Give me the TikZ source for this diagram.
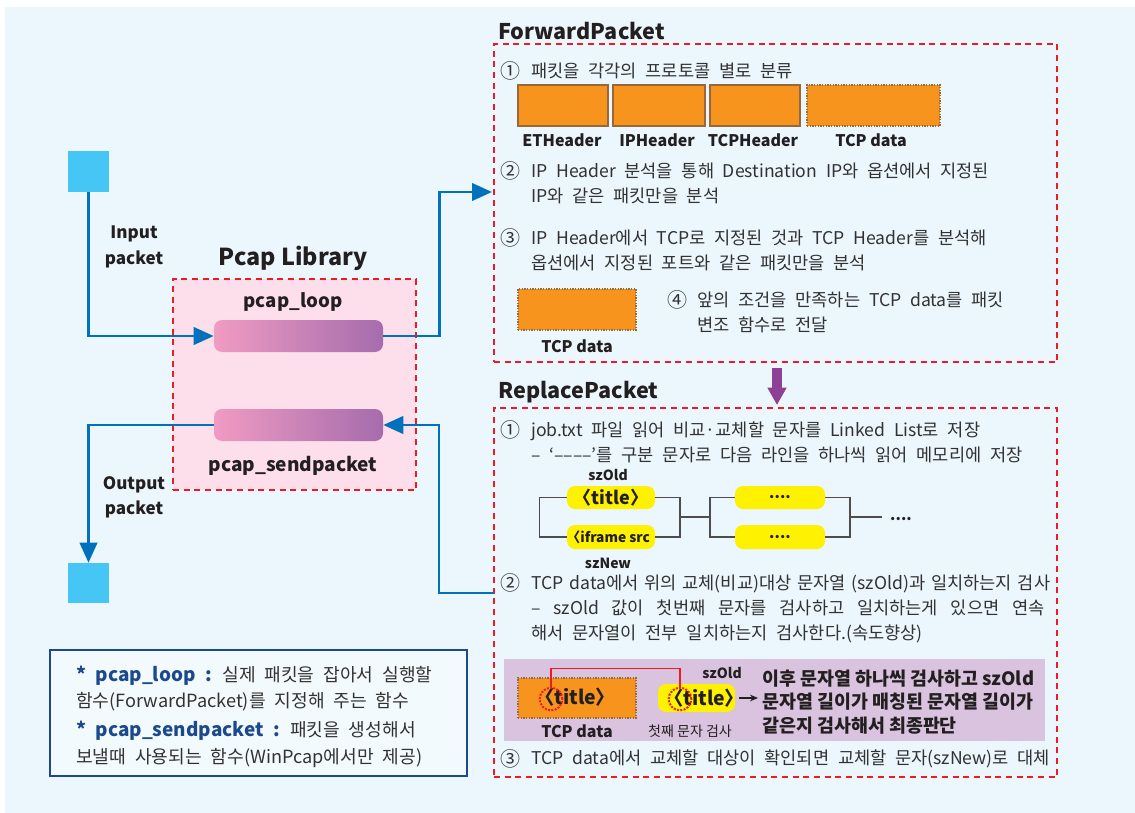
\documentclass[tikz,border=0pt]{standalone}
\usepackage{fontspec}
\setmainfont{Noto Sans CJK KR}
\newfontfamily\bodyfont{Noto Sans CJK KR}[WordSpace=2.2]
\usetikzlibrary{arrows.meta,fit}

\definecolor{bgblue}{RGB}{235,246,253}
\definecolor{sqcyan}{RGB}{69,198,245}
\definecolor{lineblue}{RGB}{0,114,188}
\definecolor{boxred}{RGB}{237,28,36}
\definecolor{pinkfill}{RGB}{253,222,235}
\definecolor{barpink}{RGB}{240,155,194}
\definecolor{barpurple}{RGB}{165,108,173}
\definecolor{pktorange}{RGB}{247,148,29}
\definecolor{pktbrown}{RGB}{150,105,60}
\definecolor{listyellow}{RGB}{255,242,0}
\definecolor{panelpurple}{RGB}{217,195,223}
\definecolor{arrowpurple}{RGB}{142,63,150}
\definecolor{notenavy}{RGB}{28,72,140}
\definecolor{txtgray}{RGB}{50,50,50}
\definecolor{lbldark}{RGB}{35,31,32}

\tikzset{
  redbox/.style={draw=boxred, line width=2.2pt, dash pattern=on 4.5pt off 3.5pt, inner sep=0pt},
  pktsq/.style={fill=sqcyan, inner sep=0pt},
  bar/.style={left color=barpink, right color=barpurple, rounded corners=6pt, inner sep=0pt},
  pkt/.style={fill=pktorange, draw=pktbrown, line width=1.5pt, inner sep=0pt},
  pktdata/.style={fill=pktorange, draw=pktbrown, densely dotted, line width=1pt, inner sep=0pt},
  ylw/.style={fill=listyellow, rounded corners=6pt, inner sep=0pt},
  ylwtxt/.style={inner sep=0pt, text=lbldark, font=\fontsize{11.5}{13}\selectfont\bfseries},
  flow/.style={draw=lineblue, line width=2.2pt, -{Triangle[length=15pt,width=13pt]}},
  bigarrow/.style={draw=arrowpurple, line width=7.5pt, -{Triangle[length=13pt,width=13.5pt]}},
  title/.style={anchor=west, inner sep=0pt, text=lbldark, font=\fontsize{16.2}{19}\selectfont\bfseries},
  lbl/.style={inner sep=0pt, text=lbldark, font=\fontsize{12}{14}\selectfont\bfseries},
  num/.style={inner sep=0pt, text=txtgray, font=\bodyfont\fontsize{15}{17}\selectfont},
  txt/.style={anchor=west, inner sep=0pt, align=left, text=txtgray, font=\bodyfont\fontsize{13.2}{18.75}\selectfont},
  listline/.style={draw=lbldark!80, line width=0.8pt},
  markring/.style={circle, draw=boxred, densely dotted, line width=1.5pt, minimum size=17pt, inner sep=0pt},
  redlink/.style={draw=boxred, line width=0.8pt},
}

\begin{document}
\begin{tikzpicture}[x=0.75pt,y=0.75pt,yscale=-1,xscale=1]
\useasboundingbox (0,0) rectangle (1135,813);
%Shape: Rectangle (background)
\fill[bgblue] (5,7) rectangle (1135,813);

%Shape: Input / Output squares
\node[pktsq, fit={(68,151) (109,192)}] (insq) {};
\node[pktsq, fit={(68,563) (109,603)}] (outsq) {};

%Shape: Pcap Library box
\node[redbox, fill=pinkfill, fit={(173,279) (416,490)}] (pcapbox) {};
\node[bar, fit={(214,320) (383,352)}] (loop) {};
\node[bar, fit={(214,409) (383,441)}] (send) {};

% Text Node
\node[inner sep=0pt, text=lbldark, font=\fontsize{17.5}{20}\selectfont\bfseries] (pcaptitle) at (293,258) {Pcap Library};
\node[lbl, font=\fontsize{14}{16}\selectfont\bfseries] (looplbl) at (293,302) {pcap\_loop};
\node[lbl, font=\fontsize{14.3}{16}\selectfont\bfseries] (sendlbl) at (293,466) {pcap\_sendpacket};
\node[lbl, align=center, font=\fontsize{12.8}{19}\selectfont\bfseries] (inlbl) at (134,247) {Input\\packet};
\node[lbl, align=center, font=\fontsize{12.8}{19}\selectfont\bfseries] (outlbl) at (134,497) {Output\\packet};

%Shape: ForwardPacket box
\node[redbox, fit={(494,44) (1057,362)}] (fpbox) {};
\node[title] (fptitle) at (498,31) {ForwardPacket};

\node[num] (fp1n) at (510,71) {①};
\node[txt] (fp1) at (531,71) {패킷을 각각의 프로토콜 별로 분류};
\node[pkt, fit={(518,85) (608,126)}] (eth) {};
\node[pkt, fit={(613,85) (705,126)}] (iph) {};
\node[pkt, fit={(710,85) (800,126)}] (tcph) {};
\node[pktdata, fit={(807,85) (940,126)}] (tcpd) {};
\node[lbl] (ethlbl) at (562,140) {ETHeader};
\node[lbl] (iphlbl) at (657,140) {IPHeader};
\node[lbl] (tcphlbl) at (753,140) {TCPHeader};
\node[lbl] (tcpdlbl) at (871,140) {TCP data};

\node[num] (fp2n) at (510,171) {②};
\node[txt] (fp2) at (531,183.5) {IP Header 분석을 통해 Destination IP와 옵션에서 지정된\\IP와 같은 패킷만을 분석};
\node[num] (fp3n) at (510,238) {③};
\node[txt] (fp3) at (531,250) {IP Header에서 TCP로 지정된 것과 TCP Header를 분석해\\옵션에서 지정된 포트와 같은 패킷만을 분석};

\node[pktdata, fit={(518,289) (636,330)}] (fwd) {};
\node[lbl] (fwdlbl) at (577,346) {TCP data};
\node[num] (fp4n) at (677,300) {④};
\node[txt] (fp4) at (697,312.5) {앞의 조건을 만족하는 TCP data를 패킷\\변조 함수로 전달};

%Straight Lines: purple arrow
\coordinate (fpbot) at (777,368);
\coordinate (rptop) at (777,405);
\draw[bigarrow] (fpbot) -- (rptop);

%Shape: ReplacePacket box
\node[redbox, fit={(494,408) (1057,777)}] (rpbox) {};
\node[title] (rptitle) at (498,392) {ReplacePacket};

\node[num] (rp1n) at (510,430) {①};
\node[txt] (rp1) at (531,442.5) {job.txt 파일 읽어 비교·교체할 문자를 Linked List로 저장\\– ‘––––’를 구분 문자로 다음 라인을 하나씩 읽어 메모리에 저장};

% linked list
\node[ylw, fit={(567,486) (655,509)}] (old1) {};
\node[ylw, fit={(567,525) (655,549)}] (new1) {};
\node[ylw, fit={(735,486) (825,509)}] (old2) {};
\node[ylw, fit={(735,525) (825,549)}] (new2) {};
\node[ylwtxt, font=\fontsize{13.5}{15}\selectfont\bfseries] (old1t) at (old1) {〈title〉};
\node[ylwtxt, font=\fontsize{10.3}{12}\selectfont\bfseries] (new1t) at ([xshift=-2pt]new1.center) {〈iframe src};
\node[ylwtxt] (old2t) at (old2) {....};
\node[ylwtxt] (new2t) at (new2) {....};
\node[lbl, font=\fontsize{10.5}{12}\selectfont\bfseries] (oldlbl) at (608,475) {szOld};
\node[lbl, font=\fontsize{10.5}{12}\selectfont\bfseries] (newlbl) at (608,563) {szNew};
\coordinate (j1) at (680,517);
\coordinate (j2) at (710,517);
\coordinate (j3) at (850,517);
\draw[listline] (old1.west) -- ++(-27,0) |- (new1.west);
\draw[listline] (old1.east) -| (j1) |- (new1.east);
\draw[listline] (j1) -- (j2);
\draw[listline] (old2.west) -| (j2) |- (new2.west);
\draw[listline] (old2.east) -| (j3) |- (new2.east);
\draw[listline] (j3) -- ++(32,0) coordinate (tail);
\node[ylwtxt] (more) at (901,519) {....};

\node[num] (rp2n) at (510,583) {②};
\node[txt] (rp2) at (531,608.5) {\makebox[385pt][s]{TCP data에서 위의 교체(비교)대상 문자열 (szOld)과 일치하는지 검사}\\\makebox[385pt][s]{– szOld 값이 첫번째 문자를 검사하고 일치하는게 있으면 연속}\\해서 문자열이 전부 일치하는지 검사한다.(속도향상)};

%Shape: comparison panel
\node[fill=panelpurple, inner sep=0pt, fit={(504,659) (1045,741)}] (cmppanel) {};
\node[pktdata, fit={(518,678) (636,718)}] (cmpdata) {};
\node[ylw, fit={(658,684) (735,712)}] (cmpold) {};
\node[ylwtxt, anchor=west, font=\fontsize{14.5}{17}\selectfont\bfseries] (cmpdatat) at (535,697) {〈title〉};
\node[ylwtxt, anchor=west, font=\fontsize{14.5}{17}\selectfont\bfseries] (cmpoldt) at (664,698) {〈title〉};
\node[markring] (mark1) at (551,699) {};
\node[markring] (mark2) at (680,699) {};
\draw[redlink] (mark1.north) -- ++(0,-18) -| (mark2.north);
\node[lbl, font=\fontsize{10.5}{12}\selectfont\bfseries] (cmpoldlbl) at (722,673) {szOld};
\node[lbl] (cmpdatalbl) at (577,731) {TCP data};
\node[inner sep=0pt, text=lbldark, font=\fontsize{10.5}{12}\selectfont] (firstchk) at (690,731) {첫째 문자 검사};
\node[txt, text=lbldark, font=\fontsize{13.8}{17.6}\selectfont\bfseries] (cmptxt) at (762,702) {이후 문자열 하나씩 검사하고 szOld\\문자열 길이가 매칭된 문자열 길이가\\같은지 검사해서 최종판단};
\draw[lbldark, line width=1pt, -{Stealth[length=6pt,width=5pt]}, shorten <=3pt, shorten >=3pt] (cmpold.east) -- (cmpold.east -| cmptxt.west);

\node[num] (rp3n) at (510,759) {③};
\node[txt] (rp3) at (531,759) {TCP data에서 교체할 대상이 확인되면 교체할 문자(szNew)로 대체};

%Straight Lines: flows
\coordinate (fpin) at (492,192);
\coordinate (rpout) at (494,593);
\draw[flow] (insq.south) |- (loop.west);
\draw[flow] (loop.east) -- ++(56,0) |- (fpin);
\draw[flow] (rpout) -- ++(-55,0) |- (send.east);
\draw[flow] (send.west) -| (outsq.north);

%Shape: note box
\node[draw=notenavy, line width=1pt, fill=bgblue!60!white, inner sep=0pt, fit={(50,650) (467,776)}] (note) {};
\node[txt, font=\bodyfont\fontsize{13.6}{20}\selectfont] (notea) at (76,688.5) {\textcolor{notenavy}{\fontsize{14.2}{20}\selectfont\bfseries * pcap\_loop :} 실제 패킷을 잡아서 실행할\\함수(ForwardPacket)를 지정해 주는 함수};
\node[txt, font=\bodyfont\fontsize{13.6}{20}\selectfont] (noteb) at (76,744.5) {\textcolor{notenavy}{\fontsize{14.2}{20}\selectfont\bfseries * pcap\_sendpacket :} 패킷을 생성해서\\보낼때 사용되는 함수(WinPcap에서만 제공)};

\end{tikzpicture}
\end{document}
